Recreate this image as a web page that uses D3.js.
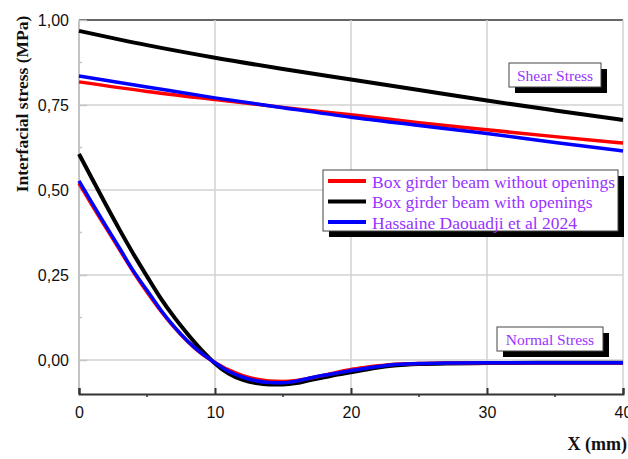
<!DOCTYPE html>
<html>
<head>
<meta charset="utf-8">
<script src="https://cdn.jsdelivr.net/npm/d3@7"></script>
<style>
  html, body { margin: 0; padding: 0; background: #fff; }
  svg { display: block; }
</style>
</head>
<body>
<svg id="chart" width="628" height="459"></svg>
<script>
// Interfacial stresses along the box girder (MPa) versus distance X (mm)

const seriesNames = [
  "Box girder beam without openings",
  "Box girder beam with openings",
  "Hassaine Daouadji et al 2024"
];
const seriesColors = ["#ff0000", "#000000", "#0000ff"];

// Shear stress
const xShear = [0, 5, 10, 15, 20, 25, 30, 35, 40];
const shearWithout = [0.818, 0.790, 0.766, 0.743, 0.721, 0.698, 0.677, 0.657, 0.638];
const shearWith    = [0.968, 0.926, 0.889, 0.856, 0.825, 0.794, 0.763, 0.734, 0.706];
const shearHassaine = [0.835, 0.803, 0.771, 0.742, 0.714, 0.690, 0.666, 0.640, 0.615];

// Normal stress
const xNormal = [0, 1, 2, 3, 4, 5, 6, 7, 8, 9, 10, 11, 12, 13, 14, 15, 16, 17, 18, 19, 20, 21, 22, 23, 24, 25, 27, 30, 35, 40];
const normalWithout = [0.520, 0.453, 0.388, 0.323, 0.259, 0.200, 0.145, 0.096, 0.054, 0.019, -0.007, -0.029, -0.045, -0.056, -0.062, -0.063, -0.060, -0.053, -0.045, -0.036, -0.028, -0.022, -0.017, -0.013, -0.011, -0.010, -0.009, -0.008, -0.008, -0.008];
const normalWith = [0.606, 0.530, 0.455, 0.382, 0.312, 0.246, 0.182, 0.126, 0.076, 0.030, -0.010, -0.040, -0.058, -0.068, -0.072, -0.072, -0.068, -0.059, -0.051, -0.043, -0.036, -0.029, -0.022, -0.017, -0.014, -0.012, -0.010, -0.009, -0.008, -0.008];
const normalHassaine = [0.527, 0.459, 0.393, 0.328, 0.262, 0.205, 0.148, 0.098, 0.055, 0.020, -0.008, -0.033, -0.050, -0.061, -0.066, -0.067, -0.062, -0.053, -0.045, -0.038, -0.031, -0.025, -0.019, -0.014, -0.012, -0.010, -0.009, -0.008, -0.008, -0.008];

const xTicks = [0, 10, 20, 30, 40];
const xMinorTicks = [5, 15, 25, 35];
const yTicks = [0, 0.25, 0.5, 0.75, 1.0];
const yMinorTicks = [0.125, 0.375, 0.625, 0.875];

const svg = d3.select("#chart");
const plotLeft = 79, plotRight = 623, plotTop = 20, plotBottom = 394;

const x = d3.scaleLinear().domain([0, 40]).range([plotLeft, plotRight]);
const y = d3.scaleLinear().domain([-0.1, 1.0]).range([plotBottom, plotTop]);

const fmt = v => d3.format(".2f")(v).replace(".", ",");
const sans = "Arial, 'Liberation Sans', sans-serif";

// grid
const grid = svg.append("g");
grid.selectAll("line.h").data(yTicks).join("line")
  .attr("x1", plotLeft).attr("x2", plotRight)
  .attr("y1", d => y(d)).attr("y2", d => y(d))
  .attr("stroke", d => d === 1.0 ? "#333" : "#d2d2d2")
  .attr("stroke-width", 1.5);
grid.selectAll("line.v").data(xTicks.slice(1)).join("line")
  .attr("x1", d => x(d)).attr("x2", d => x(d))
  .attr("y1", plotTop).attr("y2", plotBottom)
  .attr("stroke", "#d2d2d2").attr("stroke-width", 1.5);

// y axis (light)
const yAxis = d3.axisLeft(y).tickValues(yTicks).tickFormat(fmt).tickSize(-8).tickPadding(10);
const yg = svg.append("g").attr("transform", `translate(${plotLeft},0)`).call(yAxis);
yg.select(".domain").remove();
yg.selectAll(".tick line").attr("stroke", "#c4c4c4").attr("stroke-width", 1.5);
yg.selectAll(".tick text").attr("font-family", sans)
  .attr("font-size", 16).attr("fill", "#111");
svg.append("line").attr("x1", plotLeft).attr("x2", plotLeft).attr("y1", plotTop).attr("y2", plotBottom)
  .attr("stroke", "#c4c4c4").attr("stroke-width", 2);
svg.append("g").selectAll("line").data(yMinorTicks).join("line")
  .attr("x1", plotLeft).attr("x2", plotLeft + 3)
  .attr("y1", d => y(d)).attr("y2", d => y(d))
  .attr("stroke", "#c4c4c4").attr("stroke-width", 1.5);

// x axis (dark)
const xAxis = d3.axisBottom(x).tickValues(xTicks).tickFormat(d3.format("d")).tickSize(-6).tickPadding(13);
const xg = svg.append("g").attr("transform", `translate(0,${plotBottom})`).call(xAxis);
xg.select(".domain").attr("stroke", "#333").attr("stroke-width", 2);
xg.selectAll(".tick line").attr("stroke", "#333").attr("stroke-width", 2);
xg.selectAll(".tick text").attr("font-family", sans)
  .attr("font-size", 16).attr("fill", "#111");
svg.append("g").selectAll("line").data(xMinorTicks).join("line")
  .attr("x1", d => x(d)).attr("x2", d => x(d))
  .attr("y1", plotBottom).attr("y2", plotBottom + 3)
  .attr("stroke", "#333").attr("stroke-width", 1.5);

// curves
const line = (xs) => d3.line()
  .x((d, i) => x(xs[i])).y(d => y(d))
  .curve(d3.curveMonotoneX);

const shearSets = [shearWithout, shearWith, shearHassaine];
const normalSets = [normalWithout, normalWith, normalHassaine];
const drawOrder = [1, 0, 2];
const widths = [3.5, 4, 3.5];

drawOrder.forEach(k => {
  svg.append("path").attr("d", line(xShear)(shearSets[k]))
    .attr("fill", "none").attr("stroke", seriesColors[k]).attr("stroke-width", widths[k]);
});
drawOrder.forEach(k => {
  svg.append("path").attr("d", line(xNormal)(normalSets[k]))
    .attr("fill", "none").attr("stroke", seriesColors[k]).attr("stroke-width", widths[k]);
});

// boxed labels with drop shadow
function shadowBox(bx, by, bw, bh) {
  svg.append("rect").attr("x", bx + 6).attr("y", by + 6).attr("width", bw).attr("height", bh).attr("fill", "#000");
  svg.append("rect").attr("x", bx).attr("y", by).attr("width", bw).attr("height", bh)
    .attr("fill", "#fff").attr("stroke", "#444").attr("stroke-width", 1);
}
const purple = "#9933ff";
const serif = "'Times New Roman', 'Liberation Serif', serif";

shadowBox(509, 63, 92, 24);
svg.append("text").attr("x", 555).attr("y", 81).attr("text-anchor", "middle")
  .attr("font-family", serif).attr("font-size", 15.5).attr("fill", purple).text("Shear Stress");

shadowBox(497, 327, 106, 24);
svg.append("text").attr("x", 550).attr("y", 345).attr("text-anchor", "middle")
  .attr("font-family", serif).attr("font-size", 15.5).attr("fill", purple).text("Normal Stress");

// legend
shadowBox(323, 170, 295, 61);
seriesNames.forEach((name, i) => {
  const ly = 181 + i * 20.5;
  svg.append("line").attr("x1", 328).attr("x2", 366).attr("y1", ly).attr("y2", ly)
    .attr("stroke", seriesColors[i]).attr("stroke-width", 4);
  svg.append("text").attr("x", 372).attr("y", ly + 6.5)
    .attr("font-family", serif).attr("font-size", 17.5).attr("fill", purple).text(name);
});

// axis titles
svg.append("text").attr("transform", "translate(28,104) rotate(-90)")
  .attr("text-anchor", "middle").attr("font-family", serif).attr("font-weight", "bold")
  .attr("font-size", 17.5).attr("fill", "#111").text("Interfacial stress (MPa)");
svg.append("text").attr("x", 627).attr("y", 450).attr("text-anchor", "end")
  .attr("font-family", serif).attr("font-weight", "bold")
  .attr("font-size", 18).attr("fill", "#111").text("X (mm)");
</script>
</body>
</html>
